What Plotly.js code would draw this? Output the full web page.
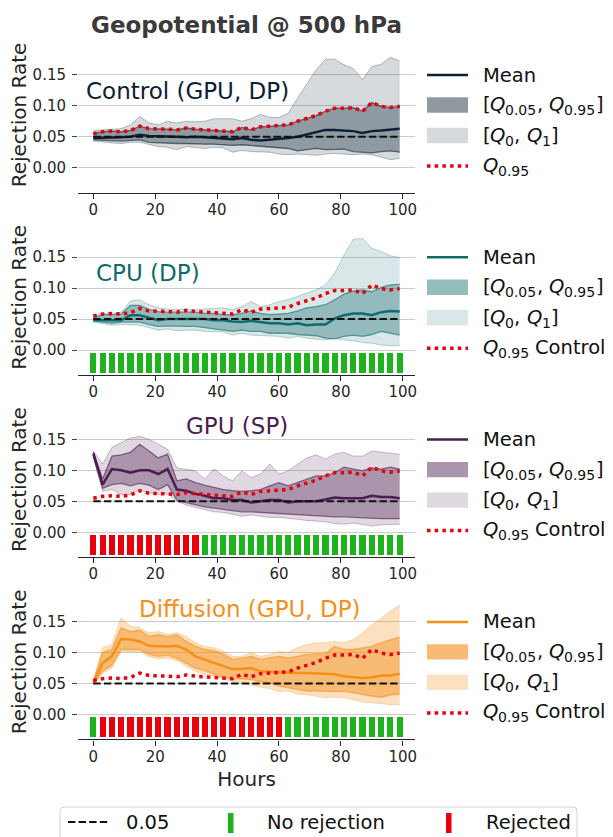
<!DOCTYPE html>
<html>
<head>
<meta charset="utf-8">
<script src="https://cdn.plot.ly/plotly-3.0.1.min.js"></script>
<style>
html, body { margin: 0; padding: 0; background: #ffffff; }
#chart { width: 613px; height: 837px; }
</style>
</head>
<body>
<div id="chart"></div>
<script>
// ---------------- DATA ----------------
const hours = [0, 3, 6, 9, 12, 15, 18, 21, 24, 27, 30, 33, 36, 39, 42, 45, 48, 51, 54, 57, 60, 63, 66, 69, 72, 75, 78, 81, 84, 87, 90, 93, 96, 99];
const xTicks = [0, 20, 40, 60, 80, 100];
const yTicks = [0, 0.05, 0.10, 0.15];
const alphaLevel = 0.05;

// Control (GPU, DP)
const controlQ95 = [0.055, 0.058, 0.059, 0.058, 0.060, 0.067, 0.063, 0.063, 0.062, 0.061, 0.064, 0.062, 0.061, 0.060, 0.060, 0.058, 0.065, 0.061, 0.066, 0.067, 0.067, 0.069, 0.075, 0.080, 0.084, 0.091, 0.096, 0.096, 0.097, 0.091, 0.105, 0.099, 0.097, 0.099];
const controlMean = [0.048, 0.048, 0.049, 0.049, 0.050, 0.053, 0.051, 0.051, 0.050, 0.050, 0.049, 0.050, 0.049, 0.048, 0.047, 0.046, 0.048, 0.045, 0.044, 0.045, 0.046, 0.048, 0.050, 0.054, 0.058, 0.061, 0.061, 0.060, 0.059, 0.056, 0.059, 0.060, 0.061, 0.063];
const controlQ05 = [0.045, 0.044, 0.043, 0.043, 0.044, 0.045, 0.041, 0.040, 0.039, 0.039, 0.039, 0.038, 0.038, 0.038, 0.037, 0.036, 0.037, 0.036, 0.034, 0.033, 0.032, 0.031, 0.027, 0.029, 0.031, 0.029, 0.029, 0.030, 0.026, 0.025, 0.024, 0.026, 0.027, 0.025];
const controlQ0 = [0.043, 0.041, 0.040, 0.039, 0.041, 0.041, 0.037, 0.034, 0.033, 0.029, 0.034, 0.032, 0.031, 0.033, 0.032, 0.025, 0.028, 0.026, 0.025, 0.025, 0.022, 0.021, 0.022, 0.021, 0.020, 0.022, 0.023, 0.022, 0.021, 0.022, 0.021, 0.017, 0.013, 0.015];
const controlQ1 = [0.060, 0.061, 0.061, 0.063, 0.069, 0.083, 0.072, 0.069, 0.075, 0.072, 0.075, 0.074, 0.075, 0.079, 0.079, 0.079, 0.075, 0.079, 0.086, 0.081, 0.081, 0.088, 0.112, 0.134, 0.158, 0.175, 0.175, 0.166, 0.160, 0.142, 0.163, 0.167, 0.178, 0.172];

// CPU (DP)
const cpuMean = [0.048, 0.048, 0.048, 0.048, 0.056, 0.056, 0.052, 0.048, 0.050, 0.050, 0.050, 0.050, 0.050, 0.048, 0.048, 0.046, 0.045, 0.047, 0.045, 0.043, 0.043, 0.041, 0.043, 0.040, 0.041, 0.041, 0.051, 0.056, 0.059, 0.059, 0.056, 0.061, 0.063, 0.062];
const cpuQ95 = [0.052, 0.057, 0.057, 0.058, 0.072, 0.072, 0.065, 0.062, 0.061, 0.061, 0.061, 0.061, 0.059, 0.059, 0.057, 0.057, 0.059, 0.063, 0.059, 0.057, 0.058, 0.059, 0.063, 0.068, 0.070, 0.073, 0.081, 0.090, 0.095, 0.097, 0.094, 0.101, 0.105, 0.106];
const cpuQ05 = [0.047, 0.045, 0.043, 0.045, 0.045, 0.045, 0.041, 0.038, 0.039, 0.038, 0.038, 0.038, 0.036, 0.034, 0.032, 0.030, 0.032, 0.030, 0.030, 0.027, 0.027, 0.027, 0.025, 0.024, 0.023, 0.019, 0.018, 0.022, 0.024, 0.022, 0.025, 0.030, 0.027, 0.024];
const cpuQ0 = [0.045, 0.043, 0.040, 0.041, 0.041, 0.040, 0.036, 0.032, 0.034, 0.031, 0.032, 0.032, 0.030, 0.030, 0.029, 0.024, 0.027, 0.024, 0.023, 0.022, 0.022, 0.019, 0.022, 0.019, 0.018, 0.016, 0.019, 0.016, 0.015, 0.012, 0.011, 0.008, 0.007, 0.007];
const cpuQ1 = [0.055, 0.059, 0.059, 0.061, 0.079, 0.081, 0.073, 0.068, 0.066, 0.065, 0.065, 0.065, 0.066, 0.067, 0.068, 0.065, 0.070, 0.078, 0.070, 0.073, 0.078, 0.081, 0.086, 0.091, 0.097, 0.105, 0.124, 0.153, 0.179, 0.180, 0.164, 0.159, 0.152, 0.149];
const cpuRejected = [0, 0, 0, 0, 0, 0, 0, 0, 0, 0, 0, 0, 0, 0, 0, 0, 0, 0, 0, 0, 0, 0, 0, 0, 0, 0, 0, 0, 0, 0, 0, 0, 0, 0];

// GPU (SP)
const gpuMean = [0.127, 0.077, 0.102, 0.100, 0.096, 0.100, 0.100, 0.094, 0.102, 0.069, 0.067, 0.062, 0.059, 0.055, 0.055, 0.052, 0.052, 0.048, 0.050, 0.052, 0.052, 0.048, 0.050, 0.050, 0.050, 0.053, 0.056, 0.055, 0.055, 0.055, 0.059, 0.057, 0.057, 0.055];
const gpuQ95 = [0.130, 0.086, 0.123, 0.125, 0.129, 0.142, 0.131, 0.120, 0.126, 0.083, 0.086, 0.080, 0.076, 0.072, 0.069, 0.067, 0.066, 0.067, 0.069, 0.075, 0.080, 0.075, 0.080, 0.086, 0.091, 0.091, 0.096, 0.105, 0.102, 0.099, 0.104, 0.102, 0.105, 0.102];
const gpuQ05 = [0.123, 0.071, 0.077, 0.079, 0.075, 0.079, 0.076, 0.069, 0.077, 0.052, 0.048, 0.044, 0.041, 0.039, 0.037, 0.034, 0.033, 0.033, 0.032, 0.031, 0.031, 0.030, 0.029, 0.028, 0.026, 0.026, 0.025, 0.025, 0.024, 0.023, 0.023, 0.022, 0.022, 0.022];
const gpuQ0 = [0.122, 0.066, 0.069, 0.061, 0.061, 0.068, 0.064, 0.061, 0.062, 0.050, 0.044, 0.040, 0.037, 0.033, 0.032, 0.029, 0.026, 0.028, 0.026, 0.024, 0.024, 0.023, 0.021, 0.019, 0.018, 0.017, 0.014, 0.013, 0.015, 0.013, 0.010, 0.012, 0.013, 0.013];
const gpuQ1 = [0.131, 0.110, 0.137, 0.145, 0.152, 0.155, 0.150, 0.142, 0.134, 0.104, 0.102, 0.099, 0.086, 0.102, 0.091, 0.083, 0.099, 0.088, 0.094, 0.110, 0.094, 0.099, 0.110, 0.120, 0.125, 0.118, 0.126, 0.129, 0.123, 0.123, 0.131, 0.129, 0.127, 0.126];
const gpuRejected = [1, 1, 1, 1, 1, 1, 1, 1, 1, 1, 1, 1, 0, 0, 0, 0, 0, 0, 0, 0, 0, 0, 0, 0, 0, 0, 0, 0, 0, 0, 0, 0, 0, 0];

// Diffusion (GPU, DP)
const difMean = [0.051, 0.083, 0.094, 0.122, 0.121, 0.118, 0.111, 0.110, 0.110, 0.111, 0.105, 0.094, 0.089, 0.083, 0.078, 0.073, 0.074, 0.075, 0.070, 0.069, 0.069, 0.067, 0.067, 0.067, 0.066, 0.065, 0.065, 0.062, 0.060, 0.059, 0.060, 0.063, 0.063, 0.066];
const difQ95 = [0.053, 0.100, 0.105, 0.140, 0.134, 0.136, 0.126, 0.129, 0.125, 0.129, 0.118, 0.110, 0.105, 0.103, 0.097, 0.089, 0.091, 0.094, 0.089, 0.091, 0.094, 0.091, 0.094, 0.097, 0.098, 0.098, 0.110, 0.105, 0.105, 0.108, 0.110, 0.116, 0.121, 0.125];
const difQ05 = [0.050, 0.070, 0.080, 0.105, 0.105, 0.105, 0.097, 0.094, 0.096, 0.091, 0.083, 0.075, 0.071, 0.066, 0.060, 0.058, 0.057, 0.057, 0.053, 0.051, 0.046, 0.043, 0.040, 0.038, 0.038, 0.037, 0.037, 0.038, 0.035, 0.032, 0.030, 0.028, 0.032, 0.033];
const difQ0 = [0.047, 0.067, 0.075, 0.102, 0.101, 0.102, 0.093, 0.090, 0.091, 0.087, 0.078, 0.070, 0.065, 0.062, 0.057, 0.053, 0.050, 0.048, 0.044, 0.042, 0.037, 0.038, 0.033, 0.032, 0.030, 0.027, 0.028, 0.027, 0.024, 0.020, 0.019, 0.017, 0.016, 0.016];
const difQ1 = [0.055, 0.108, 0.113, 0.156, 0.143, 0.140, 0.132, 0.134, 0.129, 0.132, 0.126, 0.116, 0.110, 0.108, 0.102, 0.094, 0.094, 0.100, 0.094, 0.097, 0.102, 0.100, 0.108, 0.113, 0.116, 0.116, 0.118, 0.116, 0.121, 0.132, 0.145, 0.156, 0.167, 0.177];
const difRejected = [0, 1, 1, 1, 1, 1, 1, 1, 1, 1, 1, 1, 1, 1, 1, 1, 1, 1, 1, 1, 1, 0, 0, 0, 0, 0, 0, 0, 0, 0, 0, 0, 0, 0];

const panelNames = ['Control (GPU, DP)', 'CPU (DP)', 'GPU (SP)', 'Diffusion (GPU, DP)'];

// ---------------- STYLE / GEOMETRY ----------------
const FONT = 'DejaVu Sans';
const TXT = '#262626';
const LEG_TXT = '#111111';
const RED = '#e8000b';
const GREEN = '#1db31d';
const BAR_RED = '#e8000b';
const W = 613, H = 837;
const ML = 78, MR = 198, MT = 37, MB = 97;
const PW = W - ML - MR, PH = H - MT - MB;
const Y_RANGE = [-0.04, 0.21];
const PANEL_H = 155, PITCH = 182.3, TOP0 = 37.5;
const BAR_BASE = -0.036, BAR_TOP = -0.004;
const LEG_SIZE = 19.5, SUB_SIZE = 14;

const xp = px => (px - ML) / PW;
const yp = py => (MT + PH - py) / PH;

const measureCtx = document.createElement('canvas').getContext('2d');
function textWidth(t, size, italic) {
  measureCtx.font = (italic ? 'italic ' : '') + size + 'px "DejaVu Sans"';
  return measureCtx.measureText(t).width;
}

const palettes = [
  {rgb: [12, 33, 52], aL: 0.17, aD: 0.35},
  {rgb: [16, 107, 110], aL: 0.16, aD: 0.35},
  {rgb: [76, 29, 80], aL: 0.17, aD: 0.36},
  {rgb: [245, 143, 25], aL: 0.28, aD: 0.45}
];
const rgba = (c, a) => `rgba(${c[0]},${c[1]},${c[2]},${a})`;
const rgb = c => `rgb(${c[0]},${c[1]},${c[2]})`;

const panels = [
  {mean: controlMean, q05: controlQ05, q95: controlQ95, q0: controlQ0, q1: controlQ1, rej: null},
  {mean: cpuMean, q05: cpuQ05, q95: cpuQ95, q0: cpuQ0, q1: cpuQ1, rej: cpuRejected},
  {mean: gpuMean, q05: gpuQ05, q95: gpuQ95, q0: gpuQ0, q1: gpuQ1, rej: gpuRejected},
  {mean: difMean, q05: difQ05, q95: difQ95, q0: difQ0, q1: difQ1, rej: difRejected}
];

const traces = [];
const layout = {
  width: W, height: H,
  margin: {l: ML, r: MR, t: MT, b: MB, pad: 0},
  paper_bgcolor: '#ffffff', plot_bgcolor: 'rgba(0,0,0,0)',
  font: {family: FONT, color: TXT, size: 15},
  showlegend: false,
  bargap: 0,
  hovermode: false,
  title: {
    text: '<b>Geopotential @ 500 hPa</b>',
    font: {family: FONT, size: 23, color: '#3a3a3a'},
    x: 0.5, xref: 'paper', xanchor: 'center',
    y: 1 - 25 / H, yref: 'container', yanchor: 'middle'
  },
  annotations: [],
  shapes: []
};

// mixed-style legend label: parts = [text, kind] with kind 'n' normal, 'i' italic, 's' subscript
function addRichLabel(parts, xStart, yCenter) {
  let x = xStart;
  parts.forEach(([t, kind]) => {
    const size = kind === 's' ? SUB_SIZE : LEG_SIZE;
    const italic = kind === 'i';
    const lead = t.length - t.trimStart().length;
    const body = t.trim();
    const leadW = lead ? textWidth(' '.repeat(lead), size, italic) : 0;
    if (body.length) {
      layout.annotations.push({
        text: body, showarrow: false, xref: 'paper', yref: 'paper',
        x: xp(x + leadW), y: yp(yCenter + (kind === 's' ? 5.5 : 0)),
        xanchor: 'left', yanchor: 'middle', borderpad: 0, borderwidth: 0,
        font: {family: FONT, size: size, color: LEG_TXT, style: italic ? 'italic' : 'normal'}
      });
    }
    x += textWidth(t, size, italic);
  });
}

panels.forEach((p, k) => {
  const xa = k === 0 ? 'x' : 'x' + (k + 1);
  const ya = k === 0 ? 'y' : 'y' + (k + 1);
  const pal = palettes[k];
  const c = pal.rgb;
  const top = TOP0 + k * PITCH;
  const bottom = top + PANEL_H;
  const zero = top + PANEL_H * (Y_RANGE[1] / (Y_RANGE[1] - Y_RANGE[0]));

  const base = {x: hours, xaxis: xa, yaxis: ya, type: 'scatter', mode: 'lines', hoverinfo: 'skip', showlegend: false};
  // [Q0, Q1] band
  traces.push(Object.assign({}, base, {y: p.q0, line: {color: rgba(c, 0.28), width: 1}}));
  traces.push(Object.assign({}, base, {y: p.q1, fill: 'tonexty', fillcolor: rgba(c, pal.aL), line: {color: rgba(c, 0.28), width: 1}}));
  // [Q0.05, Q0.95] band
  traces.push(Object.assign({}, base, {y: p.q05, line: {color: rgba(c, 0.6), width: 1.3}}));
  traces.push(Object.assign({}, base, {y: p.q95, fill: 'tonexty', fillcolor: rgba(c, pal.aD), line: {color: rgba(c, 0.6), width: 1.3}}));
  // Mean
  traces.push(Object.assign({}, base, {y: p.mean, line: {color: rgb(c), width: 2.5}}));
  // Q0.95 control
  traces.push(Object.assign({}, base, {y: controlQ95, line: {color: RED, width: 3.5, dash: '3.5px,4.2px'}}));
  // 0.05 reference
  traces.push(Object.assign({}, base, {y: hours.map(() => alphaLevel), line: {color: '#111111', width: 2, dash: '7.4px,3.2px'}}));
  // rejection bars
  if (p.rej) {
    traces.push({
      type: 'bar', x: hours, xaxis: xa, yaxis: ya, hoverinfo: 'skip', showlegend: false,
      y: hours.map(() => BAR_TOP - BAR_BASE), base: BAR_BASE, width: 2.0,
      marker: {color: p.rej.map(r => r ? BAR_RED : GREEN), line: {width: 0}}
    });
  }

  const xName = k === 0 ? 'xaxis' : 'xaxis' + (k + 1);
  const yName = k === 0 ? 'yaxis' : 'yaxis' + (k + 1);
  layout[xName] = {
    domain: [0, 1], anchor: ya, range: [-4.95, 103.95],
    tickmode: 'array', tickvals: xTicks, ticktext: xTicks.map(String),
    ticks: 'outside', ticklen: 5, tickwidth: 1.2, tickcolor: TXT,
    ticklabelstandoff: -2,
    showline: true, linecolor: TXT, linewidth: 1.25,
    showgrid: false, zeroline: false,
    tickfont: {family: FONT, size: 15, color: TXT}
  };
  if (k === 3) {
    layout[xName].title = {text: 'Hours', font: {family: FONT, size: 20, color: TXT}, standoff: 7};
  }
  layout[yName] = {
    domain: [yp(bottom), yp(top)], anchor: xa, range: Y_RANGE,
    tickmode: 'array', tickvals: yTicks, ticktext: yTicks.map(v => v.toFixed(2)),
    ticks: 'outside', ticklen: 5, tickwidth: 1.2, tickcolor: '#444444',
    ticklabelstandoff: 3,
    showline: false, zeroline: false,
    showgrid: true, gridcolor: '#cccccc', gridwidth: 1.2,
    tickfont: {family: FONT, size: 15, color: TXT},
    title: {text: 'Rejection Rate', font: {family: FONT, size: 20, color: TXT}, standoff: 0}
  };

  // panel label
  const labelPos = [
    {x: 84, dy: -77, anchor: 'left'},
    {x: 94, dy: -77, anchor: 'left'},
    {x: 237, dy: -106, anchor: 'center'},
    {x: 250, dy: -106, anchor: 'center'}
  ][k];
  layout.annotations.push({
    text: panelNames[k], showarrow: false, xref: 'paper', yref: 'paper',
    x: xp(labelPos.x), y: yp(zero + labelPos.dy), xanchor: labelPos.anchor, yanchor: 'middle',
    font: {family: FONT, size: 23, color: rgb(c)}
  });

  // right-hand legend
  const lx0 = xp(427), lx1 = xp(468), txPx = 482.5;
  const rows = [zero - 92.7, zero - 62.7, zero - 32.2, zero - 1.7];
  const combined = 1 - (1 - pal.aL) * (1 - pal.aD);
  layout.shapes.push({type: 'line', xref: 'paper', yref: 'paper', x0: lx0, x1: lx1, y0: yp(rows[0]), y1: yp(rows[0]), line: {color: rgb(c), width: 2.5}});
  layout.shapes.push({type: 'rect', xref: 'paper', yref: 'paper', x0: lx0, x1: lx1, y0: yp(rows[1] + 7.7), y1: yp(rows[1] - 7.7), fillcolor: rgba(c, combined), line: {width: 0}});
  layout.shapes.push({type: 'rect', xref: 'paper', yref: 'paper', x0: lx0, x1: lx1, y0: yp(rows[2] + 7.7), y1: yp(rows[2] - 7.7), fillcolor: rgba(c, pal.aL), line: {width: 0}});
  layout.shapes.push({type: 'line', xref: 'paper', yref: 'paper', x0: lx0, x1: lx1, y0: yp(rows[3]), y1: yp(rows[3]), line: {color: RED, width: 3.5, dash: '3.5px,4.2px'}});

  addRichLabel([['Mean', 'n']], txPx, rows[0]);
  addRichLabel([['[', 'n'], ['Q', 'i'], ['0.05', 's'], [', ', 'n'], ['Q', 'i'], ['0.95', 's'], [']', 'n']], txPx, rows[1] - 0.5);
  addRichLabel([['[', 'n'], ['Q', 'i'], ['0', 's'], [', ', 'n'], ['Q', 'i'], ['1', 's'], [']', 'n']], txPx, rows[2] - 0.5);
  addRichLabel(k === 0 ? [['Q', 'i'], ['0.95', 's']] : [['Q', 'i'], ['0.95', 's'], [' Control', 'n']], txPx, rows[3] - 1);
});

// bottom legend
const bl = 60, br = 577, bt = 807, bb = 850, rr = 4;
layout.shapes.push({
  type: 'path', xref: 'paper', yref: 'paper',
  path: `M ${xp(bl + rr)} ${yp(bt)} L ${xp(br - rr)} ${yp(bt)} Q ${xp(br)} ${yp(bt)} ${xp(br)} ${yp(bt + rr)} L ${xp(br)} ${yp(bb)} L ${xp(bl)} ${yp(bb)} L ${xp(bl)} ${yp(bt + rr)} Q ${xp(bl)} ${yp(bt)} ${xp(bl + rr)} ${yp(bt)} Z`,
  fillcolor: 'rgba(255,255,255,0.8)', line: {color: '#d4d4d4', width: 1}
});
layout.shapes.push({type: 'line', xref: 'paper', yref: 'paper', x0: xp(68), x1: xp(108), y0: yp(822), y1: yp(822), line: {color: '#111111', width: 2, dash: '7.4px,3.2px'}});
layout.shapes.push({type: 'rect', xref: 'paper', yref: 'paper', x0: xp(228), x1: xp(233.5), y0: yp(833), y1: yp(813), fillcolor: GREEN, line: {width: 0}});
layout.shapes.push({type: 'rect', xref: 'paper', yref: 'paper', x0: xp(446), x1: xp(451.5), y0: yp(833), y1: yp(813), fillcolor: BAR_RED, line: {width: 0}});
[['0.05', 124], ['No rejection', 265], ['Rejected', 484]].forEach(([t, x]) => {
  layout.annotations.push({
    text: t, showarrow: false, xref: 'paper', yref: 'paper',
    x: xp(x), y: yp(822), xanchor: 'left', yanchor: 'middle',
    font: {family: FONT, size: 19.5, color: LEG_TXT}
  });
});

Plotly.newPlot('chart', traces, layout, {displayModeBar: false, responsive: false});
</script>
</body>
</html>
